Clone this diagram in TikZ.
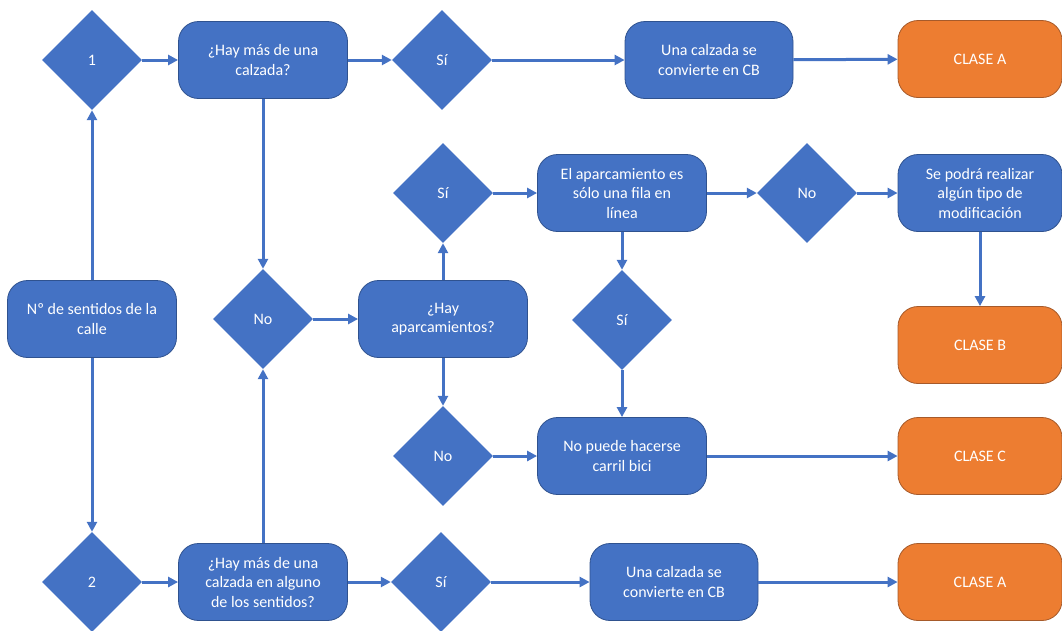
\documentclass[tikz,border=0pt]{standalone}
\usepackage{fontspec}
\setmainfont{Carlito}
\definecolor{BoxBlue}{HTML}{4472C4}
\definecolor{BoxEdge}{HTML}{2F528F}
\definecolor{ClassOrange}{HTML}{ED7D31}
\definecolor{ClassEdge}{HTML}{A65A2A}
\usetikzlibrary{arrows.meta,shapes.geometric}

\begin{document}
\begin{tikzpicture}[x=1pt,y=-1pt,
  every node/.style={font=\fontsize{16}{19.5}\selectfont,text=white,align=center},
  box/.style={rectangle,rounded corners=20pt,fill=BoxBlue,draw=BoxEdge,line width=.8pt,
    minimum width=169pt,minimum height=77pt,inner sep=2pt},
  clase/.style={box,fill=ClassOrange,draw=ClassEdge,minimum width=164pt},
  choice/.style={diamond,aspect=1,fill=BoxBlue,inner sep=0pt,minimum size=100pt},
  flow/.style={-{Triangle[length=10pt,width=10pt]},line width=3pt,color=BoxBlue}]
\useasboundingbox (0,0) rectangle (1062,630);
\node[choice] (d1) at (92,60) {1};
\node[box] (qa) at (263,60) {¿Hay más de una\\calzada?};
\node[choice] (s1) at (442,60) {Sí};
\node[box,minimum width=168pt] (ca1) at (709,60) {Una calzada se\\convierte en CB};
\node[clase] (ka1) at (980,59) {CLASE A};
\node[box] (sentidos) at (92,319) {Nº de sentidos de la\\calle};
\node[choice] (no1) at (263,319) {No};
\node[box] (hayap) at (443,319) {¿Hay\\aparcamientos?};
\node[choice] (s2) at (443,193) {Sí};
\node[box] (fila) at (622,193) {El aparcamiento es\\sólo una fila en\\línea};
\node[choice] (no2) at (807,193) {No};
\node[box,minimum width=164pt] (modif) at (980,193) {Se podrá realizar\\algún tipo de\\modificación};
\node[clase] (kb) at (980,345) {CLASE B};
\node[choice] (s3) at (622,320) {Sí};
\node[choice] (no3) at (443,456) {No};
\node[box] (carril) at (622,456) {No puede hacerse\\carril bici};
\node[clase] (kc) at (980,456) {CLASE C};
\node[choice] (d2) at (92,582) {2};
\node[box] (qb) at (263,582) {¿Hay más de una\\calzada en alguno\\de los sentidos?};
\node[choice] (s4) at (441,582) {Sí};
\node[box,minimum width=168pt] (ca2) at (674,582) {Una calzada se\\convierte en CB};
\node[clase] (ka2) at (980,582) {CLASE A};
\draw[flow] (d1) -- (qa); \draw[flow] (qa) -- (s1);
\draw[flow] (s1) -- (ca1); \draw[flow] (ca1) -- (ka1);
\draw[flow] (sentidos) -- (d1); \draw[flow] (sentidos) -- (d2);
\draw[flow] (qa) -- (no1); \draw[flow] (qb) -- (no1);
\draw[flow] (no1) -- (hayap);
\draw[flow] (hayap) -- (s2); \draw[flow] (hayap) -- (no3);
\draw[flow] (s2) -- (fila); \draw[flow] (fila) -- (no2);
\draw[flow] (no2) -- (modif); \draw[flow] (modif) -- (kb);
\draw[flow] (fila) -- (s3); \draw[flow] (s3) -- (carril);
\draw[flow] (no3) -- (carril); \draw[flow] (carril) -- (kc);
\draw[flow] (d2) -- (qb); \draw[flow] (qb) -- (s4);
\draw[flow] (s4) -- (ca2); \draw[flow] (ca2) -- (ka2);
\end{tikzpicture}
\end{document}
